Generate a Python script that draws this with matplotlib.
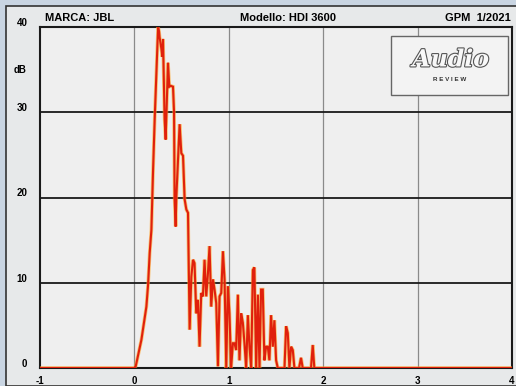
import matplotlib.pyplot as plt
import matplotlib.transforms as mtransforms
import matplotlib.patheffects as pe
from matplotlib.patches import Rectangle

plt.rcParams['font.family'] = ['Liberation Sans', 'DejaVu Sans']
plt.rcParams['font.weight'] = 'bold'

# time (ms) and level (dB)
t = [-1.0, 0.0, 0.014, 0.074, 0.127, 0.145, 0.162, 0.180, 0.198, 0.215,
     0.251, 0.261, 0.267, 0.285, 0.296, 0.303, 0.320, 0.331, 0.356, 0.370,
     0.384, 0.409, 0.420, 0.426, 0.437, 0.444, 0.479, 0.497, 0.515, 0.532,
     0.550, 0.568, 0.585, 0.603, 0.621, 0.637, 0.655, 0.673, 0.690, 0.708,
     0.726, 0.743, 0.761, 0.779, 0.796, 0.814, 0.832, 0.849, 0.867, 0.885,
     0.902, 0.920, 0.938, 0.955, 0.973, 0.990, 1.007, 1.025, 1.043, 1.060,
     1.078, 1.096, 1.113, 1.131, 1.149, 1.166, 1.184, 1.202, 1.219, 1.237,
     1.255, 1.271, 1.290, 1.308, 1.325, 1.342, 1.360, 1.377, 1.395, 1.413,
     1.430, 1.448, 1.466, 1.483, 1.501, 1.519, 1.590, 1.607, 1.625, 1.642,
     1.660, 1.678, 1.695, 1.744, 1.765, 1.783, 1.871, 1.889, 1.906, 4.0]
db = [0, 0, 0.2, 3.3, 7.2, 9.8, 13.5, 16.2, 23.3, 29.2,
      40, 39.5, 38.8, 37.5, 36.5, 38.6, 29.2, 26.8, 35.8, 33,
      33.1, 33, 30, 19.8, 16.6, 20, 28.6, 25.2, 24.9, 19.8,
      18.6, 18.2, 4.5, 10.7, 12.7, 12.3, 6.4, 8, 2.5, 8.8,
      8.4, 12.7, 8.4, 11.1, 14.3, 7.2, 10.4, 9.2, 7.6, 0.2,
      8.4, 8.8, 13.7, 10.4, 0, 9.6, 6.4, 0, 2.9, 2.9,
      2.1, 8.6, 0.9, 6.4, 5.3, 2.9, 0, 6.2, 2.5, 0,
      11.5, 11.8, 0, 8.6, 0, 9.2, 9.2, 0.9, 2.5, 2.5,
      0.9, 6.2, 2.5, 5.6, 0.9, 0, 0, 4.9, 4.1, 0,
      2.5, 2.1, 0, 0, 1.2, 0, 0, 2.7, 0, 0]

xticks = [-1, 0, 1, 2, 3, 4]
yticks = [0, 10, 20, 30, 40]

fig = plt.figure(figsize=(5.16, 3.86), dpi=100, facecolor='#c9d5e2')
fig.patches.append(Rectangle((6 / 516, 0), 1, 1 - 6 / 386, transform=fig.transFigure,
                             facecolor='#e7e9ea', edgecolor='#333333', linewidth=1.2, zorder=-5))

ax = fig.add_axes([40 / 516, 18 / 386, 472 / 516, 341 / 386])
ax.set_zorder(2)
ax.set_facecolor('#efefef')
ax.set_xlim(-1, 4)
ax.set_ylim(0, 40)

for v in xticks[1:-1]:
    ax.axvline(v, color='#8a8a8a', lw=0.9, zorder=1)
for v in yticks[1:-1]:
    ax.axhline(v, color='#1a1a1a', lw=1.3, zorder=1)

ax.plot(t, db, color='#ffa020', lw=2.6, alpha=0.6, zorder=3, solid_joinstyle='miter')
ax.plot(t, db, color='#e0200c', lw=1.5, zorder=4, solid_joinstyle='miter')

for s in ax.spines.values():
    s.set_linewidth(1.5)
    s.set_color('#1a1a1a')

ax.tick_params(length=0)
ax.set_xticks(xticks, [str(v) for v in xticks], fontsize=7)
ax.set_yticks(yticks, [str(v) for v in yticks], fontsize=7)
ax.tick_params(axis='x', pad=6)
ax.tick_params(axis='y', pad=9)
shift = mtransforms.ScaledTranslation(0, 5 / 100, fig.dpi_scale_trans)
for lab in ax.get_yticklabels():
    lab.set_transform(lab.get_transform() + shift)
ax.text(-0.042, 35, 'dB', transform=ax.get_yaxis_transform(), fontsize=7,
        ha='center', va='center')

# header
fig.text(45 / 516, 1 - 18 / 386, 'MARCA: JBL', fontsize=8, va='center')
fig.text(288 / 516, 1 - 18 / 386, 'Modello: HDI 3600', fontsize=8, va='center', ha='center')
fig.text(511 / 516, 1 - 18 / 386, 'GPM  1/2021', fontsize=8, va='center', ha='right')

# logo box
ax.add_patch(Rectangle((0.743, 0.80), 0.248, 0.175, transform=ax.transAxes,
                       facecolor='#f3f3f3', edgecolor='#666666', lw=1.0, zorder=5))
ax.text(0.87, 0.905, 'Audio', transform=ax.transAxes, fontsize=17, style='italic',
        family='DejaVu Serif', color='#f8f8f8', ha='center', va='center', zorder=6,
        path_effects=[pe.withStroke(linewidth=1.6, foreground='#555555')])
ax.text(0.868, 0.845, 'R E V I E W', transform=ax.transAxes, fontsize=4.5,
        color='#333333', ha='center', va='center', zorder=6)

fig.savefig('out.png', dpi=100, facecolor=fig.get_facecolor())
